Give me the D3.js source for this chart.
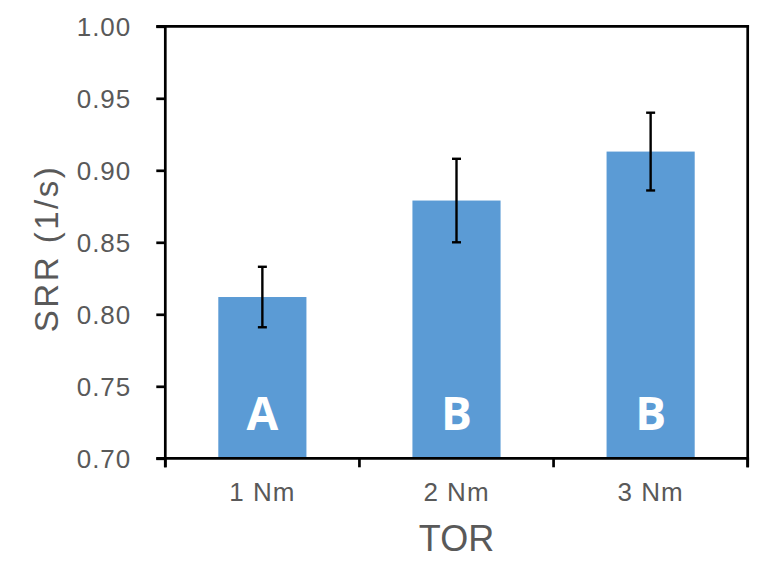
<!DOCTYPE html>
<html><head><meta charset="utf-8">
<script src="https://cdn.jsdelivr.net/npm/d3@7"></script>
<style>body{margin:0;background:#fff}svg{display:block}</style>
</head><body>
<svg id="c" width="770" height="584"></svg>
<script>
const categories = ["1 Nm", "2 Nm", "3 Nm"];
const values = [0.812, 0.879, 0.913];
const errors = [0.021, 0.029, 0.027];
const letters = ["A", "B", "B"];
const yTicks = [0.70, 0.75, 0.80, 0.85, 0.90, 0.95, 1.00];
const xTitle = "TOR";
const yTitle = "SRR (1/s)";

const svg = d3.select("#c");
const L = 165.3, R = 747.7, T = 26.3, B = 458.3;
const gray = "#595959";
const x = d3.scaleBand().domain(categories).range([L, R]).padding(0);
const y = d3.scaleLinear().domain([0.70, 1.00]).range([B, T]);
const barW = x.bandwidth() * 0.454;

// bars
svg.append("g").selectAll("rect").data(categories).join("rect")
  .attr("x", d => x(d) + x.bandwidth()/2 - barW/2)
  .attr("y", (d,i) => y(values[i]))
  .attr("width", barW)
  .attr("height", (d,i) => B - y(values[i]))
  .attr("fill", "#5B9BD5");

// error bars
const eg = svg.append("g").attr("stroke", "#000").attr("stroke-width", 2.4);
categories.forEach((c,i) => {
  const cx = x(c) + x.bandwidth()/2;
  const y1 = y(values[i] + errors[i]), y2 = y(values[i] - errors[i]);
  eg.append("line").attr("x1", cx).attr("x2", cx).attr("y1", y1).attr("y2", y2);
  eg.append("line").attr("x1", cx-4.5).attr("x2", cx+4.5).attr("y1", y1).attr("y2", y1);
  eg.append("line").attr("x1", cx-4.5).attr("x2", cx+4.5).attr("y1", y2).attr("y2", y2);
});

// letters
svg.append("g").selectAll("text").data(categories).join("text")
  .attr("transform", d => `translate(${x(d)+x.bandwidth()/2},430) scale(1,1)`)
  .attr("text-anchor", "middle")
  .attr("font-family", "'Open Sans', sans-serif").attr("font-weight", 700)
  .attr("font-size", 46).attr("fill", "#fff")
  .text((d,i) => letters[i]);

// y axis
const yAxis = d3.axisLeft(y).tickValues(yTicks).tickFormat(d3.format(".2f")).tickSize(9).tickPadding(25);
const gy = svg.append("g").attr("transform", `translate(${L},0)`).call(yAxis);
gy.select(".domain").remove();
gy.selectAll(".tick line").attr("stroke", "#000").attr("stroke-width", 2.7);
gy.selectAll(".tick text").attr("fill", gray).attr("font-family", "Arial, 'Liberation Sans', sans-serif")
  .attr("font-size", 26).attr("letter-spacing", 1).attr("dy", "0.36em");

// x axis ticks at band boundaries
const bounds = [L, ...categories.map(c => x(c) + x.bandwidth())];
const gx = svg.append("g");
gx.selectAll("line").data(bounds).join("line")
  .attr("x1", d => d).attr("x2", d => d).attr("y1", B).attr("y2", B + 9)
  .attr("stroke", "#000").attr("stroke-width", 2.7);
gx.selectAll("text").data(categories).join("text")
  .attr("x", d => x(d) + x.bandwidth()/2).attr("y", 501)
  .attr("text-anchor", "middle").attr("fill", gray)
  .attr("font-family", "Arial, 'Liberation Sans', sans-serif").attr("font-size", 26).attr("letter-spacing", 1)
  .text(d => d);

// frame
const fr = svg.append("g").attr("stroke", "#000").attr("stroke-width", 2.7).attr("fill", "none");
fr.append("line").attr("x1", L).attr("x2", L).attr("y1", T - 1.35).attr("y2", B + 9);
fr.append("line").attr("x1", R).attr("x2", R).attr("y1", T - 1.35).attr("y2", B + 9);
fr.append("line").attr("x1", L - 9).attr("x2", R + 1.35).attr("y1", T).attr("y2", T);
fr.append("line").attr("x1", L - 9).attr("x2", R + 1.35).attr("y1", B).attr("y2", B);

// titles
svg.append("text").attr("x", (L+R)/2).attr("y", 551).attr("text-anchor", "middle")
  .attr("fill", gray).attr("font-family", "Arial, 'Liberation Sans', sans-serif").attr("font-size", 36)
  .text(xTitle);
svg.append("text").attr("transform", `translate(58,${(160+337)/2}) rotate(-90)`).attr("text-anchor", "middle")
  .attr("fill", gray).attr("font-family", "Arial, 'Liberation Sans', sans-serif").attr("font-size", 33).attr("letter-spacing", 2.5)
  .text(yTitle);
</script>
</body></html>
